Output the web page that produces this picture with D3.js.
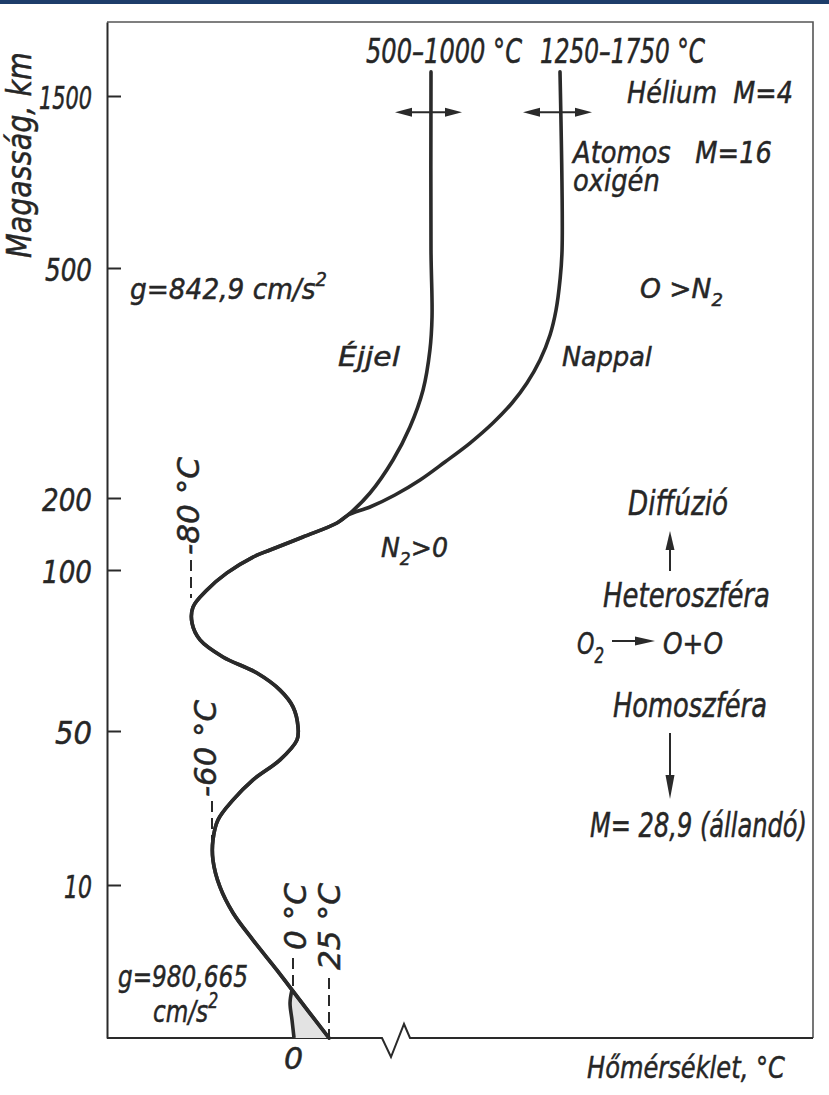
<!DOCTYPE html>
<html>
<head>
<meta charset="utf-8">
<script src="https://cdn.jsdelivr.net/npm/d3@7"></script>
<style>
  body { margin: 0; background: #fff; }
  svg text { font-family: "DejaVu Sans", sans-serif; font-style: italic; fill: #262626; stroke: #262626; stroke-width: 0.5px; white-space: pre; }
</style>
</head>
<body>
<svg id="chart" width="829" height="1095"></svg>
<script>
// altitude ticks (km) on the left axis, temperature tick on the bottom axis
var altTicks = [10, 50, 100, 200, 500, 1500];
var tempTicks = [0];

// common temperature profile, ground up to where day and night split
var profileAlt  = [0, 3.14, 4.44, 6.4, 8.17, 9.87, 16.5, 21.7, 26.9, 32.1, 37.3, 42.5, 47.7, 51.2, 57.5, 62.7, 68, 73, 78.3, 83.5, 88.5, 93.8, 99.1, 118, 127.8, 145.8, 165.3, 176.4];
var profileTemp = [25, -0.74, -11.9, -29.6, -44.4, -54.1, -59.3, -59.3, -55.6, -44.4, -29.6, -9.6, 2.8, 3.5, 0, -9.6, -26.7, -51.9, -71.4, -79, -78.1, -64.8, -48.9, -29.6, -17, 6.9, 62, 113.5];

// night (Éjjel) branch
var nightAlt  = [206.5, 249.6, 292.6, 340.9, 393, 436, 605, 1640];
var nightTemp = [216, 323, 402, 463, 495, 506, 500, 500];

// day (Nappal) branch
var dayAlt  = [187.5, 203.9, 223.5, 247, 271.7, 297.8, 323.9, 350, 380, 412.6, 445.2, 484.3, 605, 1640];
var dayTemp = [216, 332, 449, 581, 727, 860, 971, 1058, 1134, 1192, 1227, 1250, 1262, 1250];

// thin surface layer near 0 °C
var surfaceAlt  = [3.14, 2.29, 1.18, 0];
var surfaceTemp = [-0.74, -2.2, -0.74, 0.7];

var ink = "#2a2a2a";
var svg = d3.select("#chart");

// schematic (piecewise) scales
var y = d3.scaleLinear()
    .domain([0, 10, 50, 100, 200, 500, 1500, 1930])
    .range([1038, 885, 731, 570, 498, 268, 96, 22]);
var x = d3.scaleLinear()
    .domain([-80, -60, 0, 25, 500, 1250])
    .range([191, 212, 293, 329, 431, 560]);

function zip(ts, hs) { return ts.map(function(t, i) { return {t: t, h: hs[i]}; }); }

var line = d3.line()
    .x(function(d) { return x(d.t); })
    .y(function(d) { return y(d.h); })
    .curve(d3.curveCatmullRom.alpha(0.5));

// top band of the scan
svg.append("rect").attr("x", 0).attr("y", 0).attr("width", 829).attr("height", 4).attr("fill", "#1d3d6a");

// frame: top and right
svg.append("path")
    .attr("d", "M107,22 H813 V1038")
    .attr("fill", "none").attr("stroke", "#555").attr("stroke-width", 1.6);

// bottom line with break
svg.append("path")
    .attr("d", "M107,1038 H382 L391,1057 L404,1024 L410,1038 H813")
    .attr("fill", "none").attr("stroke", ink).attr("stroke-width", 2);

// left axis
var yAxis = svg.append("g")
    .attr("transform", "translate(107,0)")
    .call(d3.axisLeft(y).tickValues(altTicks).tickFormat(d3.format("d"))
      .tickSizeInner(-14).tickSizeOuter(0).tickPadding(15));
yAxis.select(".domain").attr("stroke", ink).attr("stroke-width", 2);
yAxis.selectAll(".tick line").attr("stroke", ink).attr("stroke-width", 2);
var tickW = {10: 28, 50: 37, 100: 50, 200: 50, 500: 47, 1500: 53};
yAxis.selectAll(".tick text")
    .attr("x", 0)
    .attr("dy", "0.4em")
    .attr("font-family", null).attr("font-size", null).attr("fill", null)
    .style("font-size", "32px")
    .each(function(d) {
      var t = d3.select(this);
      t.attr("transform", "translate(-15,0) scale(" + (tickW[d] / this.getComputedTextLength()) + ",1)");
    });

// bottom axis (only the 0 tick)
var xAxis = svg.append("g")
    .attr("transform", "translate(0,1038)")
    .call(d3.axisBottom(x).tickValues(tempTicks).tickSize(0).tickPadding(10));
xAxis.select(".domain").remove();
xAxis.selectAll(".tick text")
    .attr("font-family", null).attr("font-size", null).attr("fill", null)
    .style("font-size", "30px");

// shaded surface triangle
var tri = zip(surfaceTemp, surfaceAlt).concat([{t: 25, h: 0}]);
svg.append("path")
    .attr("d", d3.line().x(function(d) { return x(d.t); }).y(function(d) { return y(d.h); })(tri) + "Z")
    .attr("fill", "#e3e3e3");

// dashed leader lines
function leader(t, y0, y1) {
  svg.append("line")
      .attr("x1", x(t)).attr("x2", x(t))
      .attr("y1", y0).attr("y2", y1)
      .attr("stroke", ink).attr("stroke-width", 2)
      .attr("stroke-dasharray", "11,6");
}
leader(-80, 560, 598);
leader(-60, 801, 840);
leader(0, 958, 990);
leader(25, 978, 1038);

// curves
var common = zip(profileTemp, profileAlt);
[zip(nightTemp, nightAlt), zip(dayTemp, dayAlt)].forEach(function(branch) {
  svg.append("path")
      .attr("d", line(common.concat(branch)))
      .attr("fill", "none").attr("stroke", ink).attr("stroke-width", 3.6).attr("stroke-linecap", "round");
});
svg.append("path")
    .attr("d", line(zip(surfaceTemp, surfaceAlt)))
    .attr("fill", "none").attr("stroke", ink).attr("stroke-width", 3.6);

// arrows
function head(tx, ty, dx, dy, len, hw) {
  // tip at (tx,ty), pointing along (dx,dy)
  var bx = tx - dx * len, by = ty - dy * len;
  var px = -dy * hw, py = dx * hw;
  svg.append("path")
      .attr("d", "M" + tx + "," + ty + "L" + (bx + px) + "," + (by + py) + "L" + (bx - px) + "," + (by - py) + "Z")
      .attr("fill", ink);
}
function arrowLine(x1, y1, x2, y2) {
  svg.append("line").attr("x1", x1).attr("y1", y1).attr("x2", x2).attr("y2", y2)
      .attr("stroke", ink).attr("stroke-width", 2);
}
var yArrow = y(1405);
[[395, 462], [523, 592]].forEach(function(a) {
  arrowLine(a[0] + 8, yArrow, a[1] - 8, yArrow);
  head(a[0], yArrow, -1, 0, 17, 4.5);
  head(a[1], yArrow, 1, 0, 17, 4.5);
});
arrowLine(670, 571, 670, 545);
head(670, 531, 0, -1, 19, 4.5);
arrowLine(670, 733, 670, 785);
head(670, 799, 0, 1, 24, 4.5);
arrowLine(612, 641, 642, 641);
head(655, 641, 1, 0, 20, 4.5);

// labels: lines of parts [text, kind], kind "sub"/"sup" for small shifted digits.
// The first line is squeezed to width w; further lines share that squeeze.
function label(lines, x0, y0, size, w, opt) {
  opt = opt || {};
  if (typeof lines === "string") lines = [[[lines]]];
  var t = svg.append("text").attr("x", 0).attr("y", 0).style("font-size", size + "px");
  var first = [];
  lines.forEach(function(parts, li) {
    var shift = 0;
    parts.forEach(function(p, pi) {
      var s = t.append("tspan").text(p[0]);
      var want = p[1] === "sub" ? 0.3 * size : p[1] === "sup" ? -0.45 * size : 0;
      var dy = want - shift;
      if (pi === 0 && li > 0) { s.attr("x", 0); dy += opt.lead; }
      if (dy) s.attr("dy", dy);
      if (p[1]) s.style("font-size", (0.68 * size) + "px");
      shift = want;
      if (li === 0) first.push(s.node());
    });
  });
  var n = d3.sum(first, function(e) { return e.getComputedTextLength(); });
  var k = w ? w / n : 1;
  if (opt.indent) t.selectAll("tspan").filter(function() { return this.getAttribute("x") === "0"; })
      .attr("x", opt.indent / k);
  t.attr("transform", "translate(" + x0 + "," + y0 + ")" + (opt.rot ? " rotate(-90)" : "") + " scale(" + k + ",1)");
  return t;
}

label("Magasság, km", 31, 258, 34, 206, {rot: true});
label("500–1000 °C", 366, 63, 34, 156);
label("1250–1750 °C", 540, 63, 34, 165);
label("Hélium  M=4", 627, 103, 30, 166);
label([[["Atomos   M=16"]], [["oxigén"]]], 573, 163, 31, 199, {lead: 28});
label([[["O >N"], ["2", "sub"]]], 640, 298, 26, 83);
label([[["g=842,9 cm/s"], ["2", "sup"]]], 130, 299, 28, 197);
label("Éjjel", 338, 366, 27, 62);
label("Nappal", 562, 366, 27, 90);
label([[["N"], ["2", "sub"], [">0"]]], 381, 557, 27, 67);
label("Diffúzió", 628, 515, 33, 100);
label("Heteroszféra", 603, 607, 33, 167);
label([[["O"], ["2", "sub"]]], 577, 654, 31, 27);
label("O+O", 663, 654, 31, 60);
label("Homoszféra", 613, 717, 33, 154);
label("M= 28,9 (állandó)", 590, 837, 33, 217);
label([[["g=980,665"]], [["cm/s"], ["2", "sup"]]], 118, 987, 30, 130, {lead: 35, indent: 35});
label("Hőmérséklet, °C", 587, 1078, 30, 198);

// rotated temperature marks
label("-80 °C", 199, 555, 30, 98, {rot: true});
label("-60 °C", 216, 797, 30, 97, {rot: true});
label("0 °C", 306, 950, 30, 67, {rot: true});
label("25 °C", 340, 970, 30, 87, {rot: true});
</script>
</body>
</html>
